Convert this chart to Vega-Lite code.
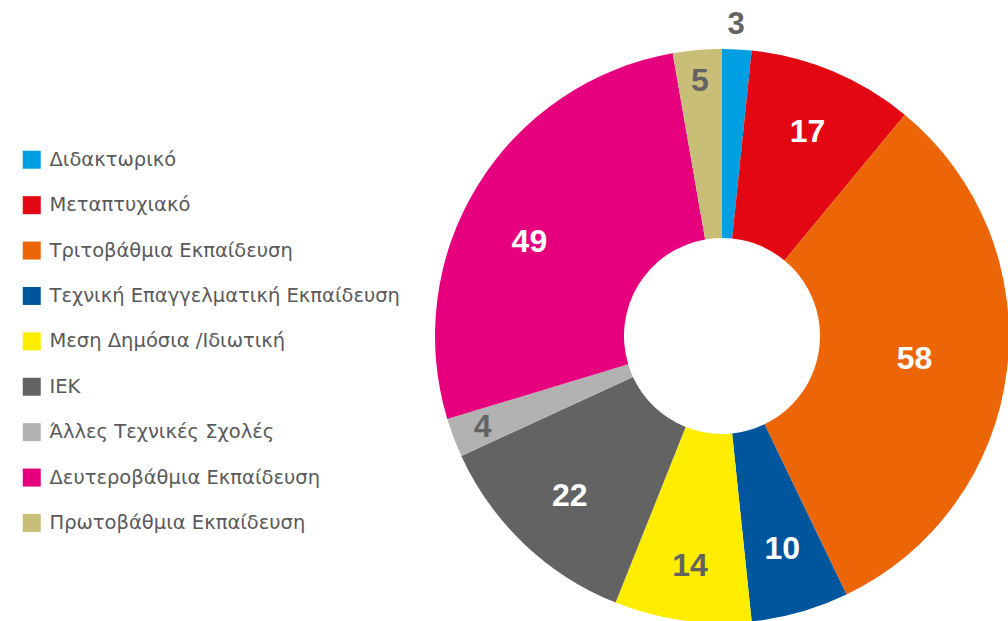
{
  "$schema": "https://vega.github.io/schema/vega-lite/v6.json",
  "autosize": {"type": "none"},
  "padding": {"left": 435, "top": 49, "right": 0, "bottom": 0},
  "width": 574,
  "height": 574,
  "background": "white",
  "config": {"view": {"stroke": null}, "font": "Liberation Sans"},
  "data": {
    "values": [
      {"n": 1, "cat": "Διδακτωρικό", "value": 3},
      {"n": 2, "cat": "Μεταπτυχιακό", "value": 17},
      {"n": 3, "cat": "Τριτοβάθμια Εκπαίδευση", "value": 58},
      {"n": 4, "cat": "Τεχνική Επαγγελματική Εκπαίδευση", "value": 10},
      {"n": 5, "cat": "Μεση Δημόσια /Ιδιωτική", "value": 14},
      {"n": 6, "cat": "ΙΕΚ", "value": 22},
      {"n": 7, "cat": "Άλλες Τεχνικές Σχολές", "value": 4},
      {"n": 8, "cat": "Δευτεροβάθμια Εκπαίδευση", "value": 49},
      {"n": 9, "cat": "Πρωτοβάθμια Εκπαίδευση", "value": 5}
    ]
  },
  "encoding": {
    "theta": {"field": "value", "type": "quantitative", "stack": true},
    "order": {"field": "n", "type": "quantitative"}
  },
  "layer": [
    {
      "mark": {"type": "arc", "outerRadius": 287, "innerRadius": 98, "strokeWidth": 0},
      "encoding": {
        "color": {
          "field": "cat",
          "type": "nominal",
          "sort": null,
          "scale": {
            "domain": ["Διδακτωρικό", "Μεταπτυχιακό", "Τριτοβάθμια Εκπαίδευση", "Τεχνική Επαγγελματική Εκπαίδευση", "Μεση Δημόσια /Ιδιωτική", "ΙΕΚ", "Άλλες Τεχνικές Σχολές", "Δευτεροβάθμια Εκπαίδευση", "Πρωτοβάθμια Εκπαίδευση"],
            "range": ["#009FE3", "#E30613", "#EC6608", "#00569D", "#FFED00", "#646363", "#B2B2B2", "#E6007E", "#C8BE78"]
          },
          "legend": {
            "title": null,
            "orient": "none",
            "legendX": -413,
            "legendY": 101,
            "symbolType": "square",
            "symbolSize": 324,
            "symbolStrokeWidth": 0,
            "symbolOpacity": 1,
            "labelFont": "DejaVu Sans",
            "labelFontSize": 19.5,
            "labelColor": "#5a5a5a",
            "labelLimit": 600,
            "labelOffset": 8,
            "rowPadding": 24.4,
            "padding": 0
          }
        }
      }
    },
    {
      "mark": {"type": "text", "radius": 221, "fontSize": 32, "fontWeight": "bold", "color": "white", "baseline": "middle", "align": "center"},
      "encoding": {
        "text": {"condition": {"test": "indexof(['Μεταπτυχιακό', 'Τεχνική Επαγγελματική Εκπαίδευση', 'ΙΕΚ'], datum.cat) >= 0", "field": "value", "type": "quantitative"}, "value": ""}
      }
    },
    {
      "mark": {"type": "text", "radius": 218, "dx": -7, "dy": 20, "fontSize": 32, "fontWeight": "bold", "color": "white", "baseline": "middle", "align": "center"},
      "encoding": {
        "text": {"condition": {"test": "datum.cat == 'Δευτεροβάθμια Εκπαίδευση'", "field": "value", "type": "quantitative"}, "value": ""}
      }
    },
    {
      "mark": {"type": "text", "radius": 194, "fontSize": 32, "fontWeight": "bold", "color": "white", "baseline": "middle", "align": "center"},
      "encoding": {
        "text": {"condition": {"test": "datum.cat == 'Τριτοβάθμια Εκπαίδευση'", "field": "value", "type": "quantitative"}, "value": ""}
      }
    },
    {
      "mark": {"type": "text", "radius": 232, "fontSize": 32, "fontWeight": "bold", "color": "#646363", "baseline": "middle", "align": "center"},
      "encoding": {
        "text": {"condition": {"test": "datum.cat == 'Μεση Δημόσια /Ιδιωτική'", "field": "value", "type": "quantitative"}, "value": ""}
      }
    },
    {
      "mark": {"type": "text", "radius": 256, "fontSize": 32, "fontWeight": "bold", "color": "#646363", "baseline": "middle", "align": "center"},
      "encoding": {
        "text": {"condition": {"test": "datum.cat == 'Άλλες Τεχνικές Σχολές' || datum.cat == 'Πρωτοβάθμια Εκπαίδευση'", "field": "value", "type": "quantitative"}, "value": ""}
      }
    },
    {
      "mark": {"type": "text", "radius": 313, "dx": -2, "dy": 2, "fontSize": 31, "fontWeight": "bold", "color": "#646363", "baseline": "middle", "align": "center"},
      "encoding": {
        "text": {"condition": {"test": "datum.cat == 'Διδακτωρικό'", "field": "value", "type": "quantitative"}, "value": ""}
      }
    }
  ]
}
